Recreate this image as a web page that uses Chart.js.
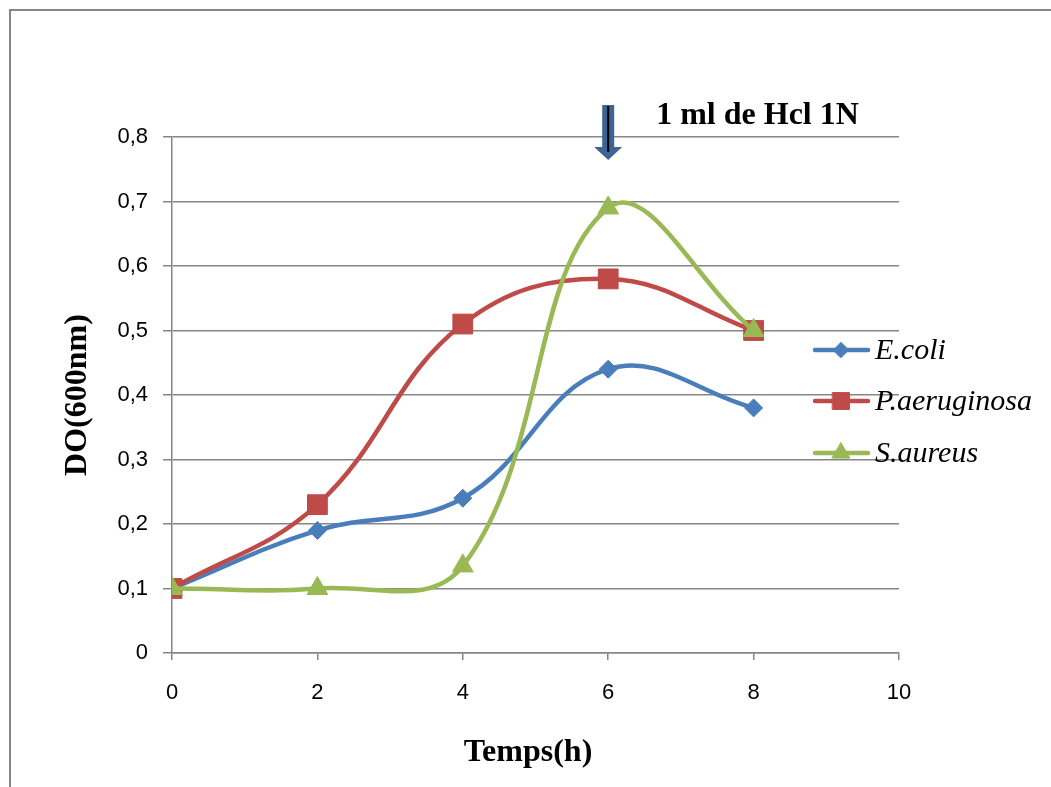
<!DOCTYPE html>
<html>
<head>
<meta charset="utf-8">
<script src="https://cdn.jsdelivr.net/npm/chart.js@4"></script>
<style>
  html, body { margin: 0; padding: 0; background: #fff; }
  #wrap { width: 1051px; height: 787px; }
</style>
</head>
<body>
<div id="wrap"><canvas id="grafico" width="1051" height="787"></canvas></div>
<script>
// temps (h) et DO mesurées
const temps = [0, 2, 4, 6, 8];
const ecoli = [0.1, 0.19, 0.24, 0.44, 0.38];
const paeruginosa = [0.1, 0.23, 0.51, 0.58, 0.5];
const saureus = [0.1, 0.1, 0.135, 0.69, 0.5];
const noms = ["E.coli", "P.aeruginosa", "S.aureus"];
const titreX = "Temps(h)";
const titreY = "DO(600nm)";
const annotation = "1 ml de Hcl 1N";
const tempsAjout = 6;

const bleu = "#4A7EBB", rouge = "#BE4B48", vert = "#98B954";
const gris = "#868686";

function points(ys) {
  return temps.map((t, i) => ({ x: t, y: ys[i] }));
}

const serie = (label, ys, couleur, style, rayon, ordre) => ({
  label: label,
  data: points(ys),
  borderColor: couleur,
  backgroundColor: couleur,
  borderWidth: 4.5,
  pointStyle: style,
  pointRadius: rayon,
  pointHoverRadius: rayon,
  pointBorderWidth: 1,
  tension: 0.4,
  fill: false,
  order: ordre
});

// cadre, légende, flèche, titre X et texte d'annotation
const dessinsPlugin = {
  id: "dessins",
  beforeDraw(chart) {
    const c = chart.ctx;
    c.save();
    c.strokeStyle = gris;
    c.lineWidth = 2;
    c.beginPath();
    c.moveTo(10, 787);
    c.lineTo(10, 10);
    c.lineTo(1051, 10);
    c.stroke();
    c.restore();
  },
  afterDraw(chart) {
    const c = chart.ctx;
    const xs = chart.scales.x;
    // légende
    const yLeg = [350, 401, 453];
    chart.data.datasets.forEach((ds, i) => {
      const y = yLeg[i];
      c.save();
      c.strokeStyle = ds.borderColor;
      c.lineWidth = 4.5;
      c.lineCap = "round";
      c.beginPath();
      c.moveTo(815, y);
      c.lineTo(868, y);
      c.stroke();
      c.fillStyle = ds.backgroundColor;
      c.strokeStyle = ds.borderColor;
      c.lineWidth = 1;
      Chart.helpers.drawPoint(c, {
        pointStyle: ds.pointStyle,
        radius: ds.pointRadius * 0.85,
        rotation: 0,
        borderWidth: 1
      }, 841, y);
      c.fillStyle = "#000";
      c.font = "italic 30px 'Liberation Serif'";
      c.textAlign = "left";
      c.textBaseline = "middle";
      c.fillText(ds.label, 875, y + 1);
      c.restore();
    });
    // titre de l'axe X
    c.save();
    c.fillStyle = "#000";
    c.font = "bold 32px 'Liberation Serif'";
    c.textAlign = "center";
    c.textBaseline = "middle";
    c.fillText(titreX, 528, 753);
    c.restore();
    // flèche
    const xa = xs.getPixelForValue(tempsAjout);
    c.save();
    c.fillStyle = "#3E6494";
    c.fillRect(xa - 6, 105, 12, 43);
    c.beginPath();
    c.moveTo(xa - 14, 147);
    c.lineTo(xa + 14, 147);
    c.lineTo(xa, 160);
    c.closePath();
    c.fill();
    c.strokeStyle = "#000";
    c.lineWidth = 2;
    c.beginPath();
    c.moveTo(xa, 106);
    c.lineTo(xa, 152);
    c.stroke();
    c.fillStyle = "#000";
    c.font = "bold 32px 'Liberation Serif'";
    c.textAlign = "left";
    c.textBaseline = "alphabetic";
    c.fillText(annotation, xa + 48, 124);
    c.restore();
  }
};

new Chart(document.getElementById("grafico"), {
  type: "line",
  data: {
    datasets: [
      serie(noms[0], ecoli, bleu, "rectRot", 9, 3),
      serie(noms[1], paeruginosa, rouge, "rect", 14, 2),
      serie(noms[2], saureus, vert, "triangle", 12, 1)
    ]
  },
  options: {
    responsive: false,
    animation: false,
    events: [],
    layout: { padding: { left: 55, top: 137, right: 152, bottom: 0 } },
    plugins: {
      legend: { display: false },
      tooltip: { enabled: false }
    },
    scales: {
      x: {
        type: "linear",
        min: 0,
        max: 10,
        afterFit: s => { s.height = 134; },
        ticks: {
          stepSize: 2,
          color: "#000",
          padding: 20,
          font: { family: "'Liberation Sans'", size: 22 }
        },
        grid: {
          drawOnChartArea: false,
          color: gris,
          lineWidth: 1.5,
          tickLength: 7
        },
        border: { color: gris, width: 1.5 }
      },
      y: {
        min: 0,
        max: 0.8,
        afterFit: s => { s.width = 117; },
        ticks: {
          stepSize: 0.1,
          color: "#000",
          padding: 15,
          font: { family: "'Liberation Sans'", size: 22 },
          callback: v => v === 0 ? "0" : v.toFixed(1).replace(".", ",")
        },
        grid: {
          color: gris,
          lineWidth: 1.5,
          tickLength: 9
        },
        border: { color: gris, width: 1.5 },
        title: {
          display: true,
          text: titreY,
          color: "#000",
          font: { family: "'Liberation Serif'", size: 32, weight: "bold" }
        }
      }
    }
  },
  plugins: [dessinsPlugin]
});
</script>
</body>
</html>
